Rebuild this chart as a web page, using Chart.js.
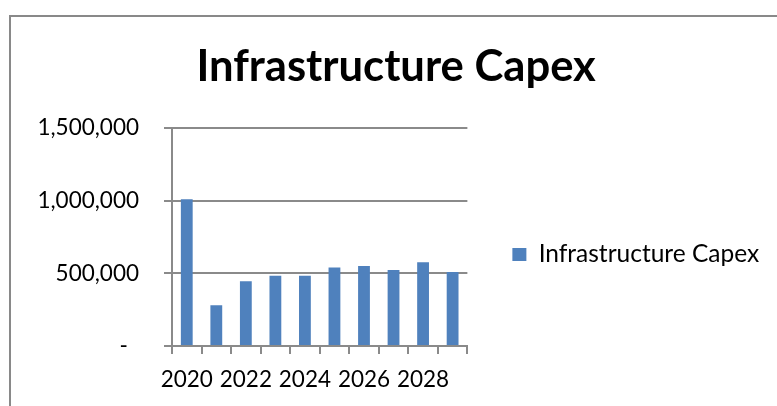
<!DOCTYPE html>
<html>
<head>
<meta charset="utf-8">
<script src="https://cdn.jsdelivr.net/npm/chart.js@4.4.1/dist/chart.umd.min.js"></script>
<style>
  html, body { margin: 0; padding: 0; background: #ffffff; overflow: hidden; }
  #wrap { position: relative; width: 777px; height: 406px; overflow: hidden; }
  #frame { position: absolute; left: 9px; top: 15px; width: 900px; height: 500px; border-left: 2px solid #898989; border-top: 2px solid #898989; }
  canvas { position: absolute; left: 0; top: 0; }
</style>
</head>
<body>
<div id="wrap">
  <div id="frame"></div>
  <canvas id="c" width="777" height="406"></canvas>
</div>
<script>
const categories = ['2020', '2021', '2022', '2023', '2024', '2025', '2026', '2027', '2028', '2029'];
const seriesName = 'Infrastructure Capex';
const capexValues = [1010000, 280000, 445000, 484000, 484000, 541000, 551000, 523000, 576000, 509000];
const yTicks = [0, 500000, 1000000, 1500000];

const FONT = 'Lato, "Liberation Sans", sans-serif';
const GRID = '#8a8a8a';

const legendShift = {
  id: 'legendShift',
  afterLayout(chart) {
    const lg = chart.legend;
    if (!lg) return;
    const target = 254.5;
    const delta = target - (lg.top + lg.bottom) / 2;
    lg.top += delta;
    lg.bottom += delta;
  }
};

new Chart(document.getElementById('c'), {
  type: 'bar',
  data: {
    labels: categories,
    datasets: [{
      label: seriesName,
      data: capexValues,
      backgroundColor: '#4F81BD',
      borderWidth: 0,
      categoryPercentage: 1.0,
      barPercentage: 0.4
    }]
  },
  options: {
    responsive: false,
    animation: false,
    devicePixelRatio: 1,
    layout: { padding: { left: 23, right: 7.75, top: 0, bottom: 0 } },
    plugins: {
      title: {
        display: true,
        text: 'Infrastructure Capex',
        color: '#000',
        font: { family: FONT, size: 43.6, weight: 'bold' },
        padding: { top: 41, bottom: 34.7 }
      },
      legend: {
        display: true,
        position: 'right',
        align: 'center',
        maxWidth: 420,
        labels: {
          color: '#000',
          font: { family: FONT, size: 24.5 },
          boxWidth: 14,
          boxHeight: 13,
          padding: 45
        }
      },
      tooltip: { enabled: false }
    },
    scales: {
      x: {
        offset: true,
        grid: { display: true, drawOnChartArea: false, drawTicks: true, tickLength: 8, offset: true, color: GRID, lineWidth: 2 },
        border: { display: true, color: GRID, width: 2 },
        ticks: {
          autoSkip: false, maxRotation: 0, minRotation: 0, padding: 12, color: '#000',
          font: { family: FONT, size: 22.5 },
          callback: function(val, i) { return i % 2 === 0 ? categories[i] : ''; }
        },
        afterFit: function(s) { s.height = 60; }
      },
      y: {
        min: 0, max: 1500000,
        afterBuildTicks: function(s) { s.ticks = yTicks.map(v => ({ value: v })); },
        grid: { color: GRID, lineWidth: 2, drawTicks: true, tickLength: 8 },
        border: { display: true, color: GRID, width: 2 },
        ticks: {
          padding: 25, color: '#000',
          font: { family: FONT, size: 22.5 },
          callback: function(v) { return v === 0 ? '-\u2002' : v.toLocaleString('en-US'); }
        },
        afterFit: function(s) { s.width = 149; }
      }
    }
  },
  plugins: [legendShift]
});
</script>
</body>
</html>
